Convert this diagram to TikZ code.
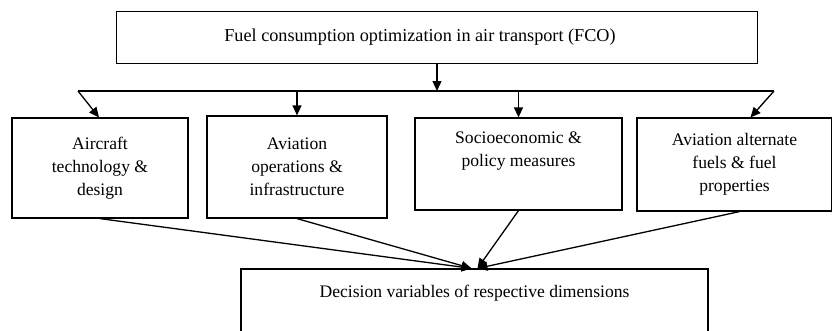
\documentclass[tikz,border=0pt]{standalone}
\usepackage{fontspec}
\setmainfont{Liberation Serif}
\usetikzlibrary{arrows.meta}
\begin{document}
\begin{tikzpicture}[x=1pt,y=-1pt,
  box/.style={draw, line width=1.2pt, inner sep=0pt, align=center,
    font=\fontsize{17.6}{23}\selectfont},
  arr/.style={line width=1.3pt, -{Triangle[length=10pt,width=9pt]}},
  link/.style={line width=1.3pt}]
\useasboundingbox (0,0) rectangle (832,330);
% root box, its title set a little left of the middle
\node[box, minimum width=641, minimum height=52, font=\fontsize{18.2}{23}\selectfont] (top) at (437,37.5)
  {\hspace*{-34pt}Fuel consumption optimization in air transport (FCO)};
% four dimensions
\node[box, minimum width=176, minimum height=100] (b1) at (100,168)
  {Aircraft\\technology \&\\design};
\node[box, minimum width=180, minimum height=102] (b2) at (297,167)
  {Aviation\\operations \&\\infrastructure};
\node[box, minimum width=207, minimum height=92] (b3) at (518.5,164)
  {Socioeconomic \&\\policy measures\\\strut};
\node[box, minimum width=195, minimum height=93] (b4) at (734.5,164.5)
  {Aviation alternate\\fuels \& fuel\\properties};
% outcome box
\node[box, minimum width=467, minimum height=98] (bot) at (474.5,318)
  {Decision variables of respective dimensions\\\strut\\\strut};
% distribution bus
\coordinate (busL) at (78,91);
\coordinate (busR) at (774,91);
\draw[link] (busL) -- (busR);
\draw[arr] (top.south) -- (top.south |- busL);
\draw[arr] (busL) -- ([xshift=-1pt]b1.north);
\draw[arr] (b2.north |- busL) -- (b2.north);
\draw[arr] (b3.north |- busL) -- (b3.north);
\draw[arr] (busR) -- ([xshift=16pt]b4.north);
% convergence on the outcome
\draw[arr] (b1.south) -- ([xshift=-3pt]bot.north);
\draw[arr] (b2.south) -- ([xshift=-3pt]bot.north);
\draw[arr] (b3.south) -- ([xshift=3pt]bot.north);
\draw[arr] ([xshift=5pt]b4.south) -- ([xshift=3pt]bot.north);
\end{tikzpicture}
\end{document}
